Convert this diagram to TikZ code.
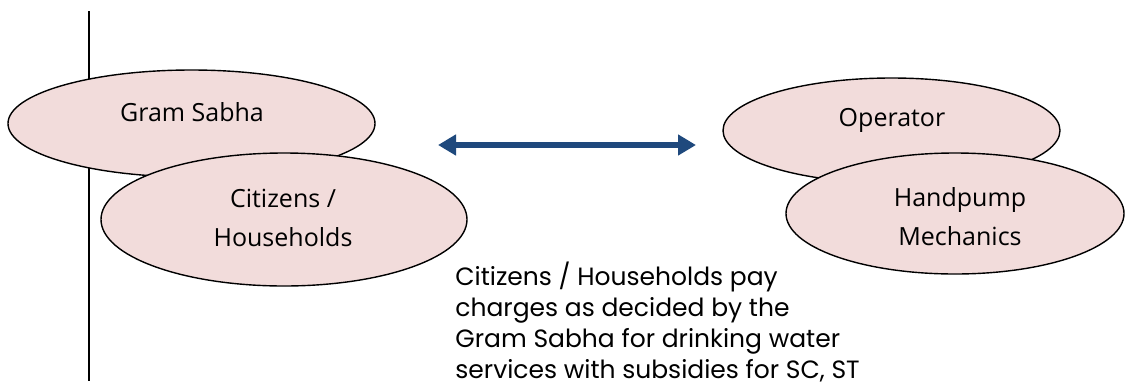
\documentclass[tikz,border=0pt]{standalone}
\usepackage{fontspec}
\usepackage{tikz}
\usetikzlibrary{arrows.meta,positioning,shapes.geometric}
\usepackage{xcolor}
\newfontfamily\comicfont{Open Sans}
\newfontfamily\gothicfont{Poppins}
\definecolor{blush}{RGB}{242,220,219}
\definecolor{navy}{RGB}{31,73,125}
\tikzset{
  role/.style={ellipse, draw, fill=blush, line width=0.7pt, inner sep=0pt},
  rolename/.style={font=\comicfont\fontsize{12.5}{19.5}\selectfont, align=center, inner sep=0pt},
}

\begin{document}
\begin{tikzpicture}[x=0.5pt, y=-0.5pt]
    \useasboundingbox (0,0) rectangle (1125,381);
    \draw[line width=1pt] (89,11) -- (89,381);
    % panchayat side
    \node[role, minimum width=183.5pt, minimum height=53.5pt] (gram) at (191.5,123.5) {};
    \node[rolename] (gramtxt) at (192,112) {Gram Sabha};
    \node[role, minimum width=183pt, minimum height=66.5pt] (cit) at (284,219.5) {};
    \node[rolename] (cittxt) at (283,217.5) {Citizens /\\ Households};
    % service side
    \node[role, minimum width=168.5pt, minimum height=52.5pt] (oper) at (891.5,130.5) {};
    \node[rolename] (opertxt) at (892,120) {Operator};
    \node[role, minimum width=169pt, minimum height=60.5pt] (mech) at (955,213.5) {};
    \node[rolename] (mechtxt) at (960,216.5) {Handpump\\ Mechanics};
    \coordinate (left) at (438,145);
    \coordinate (right) at (696,145);
    \draw[navy, line width=3pt, {Triangle[width=10pt,length=9pt]}-{Triangle[width=10pt,length=9pt]}] (left) -- (right);
    \node[anchor=north west, inner sep=0pt, align=left,
      font=\gothicfont\fontsize{12.5}{15.5}\selectfont] (note) at (455,262)
      {Citizens / Households pay\\ charges as decided by the\\ Gram Sabha for drinking water\\ services with subsidies for SC, ST};
  \end{tikzpicture}
\end{document}
